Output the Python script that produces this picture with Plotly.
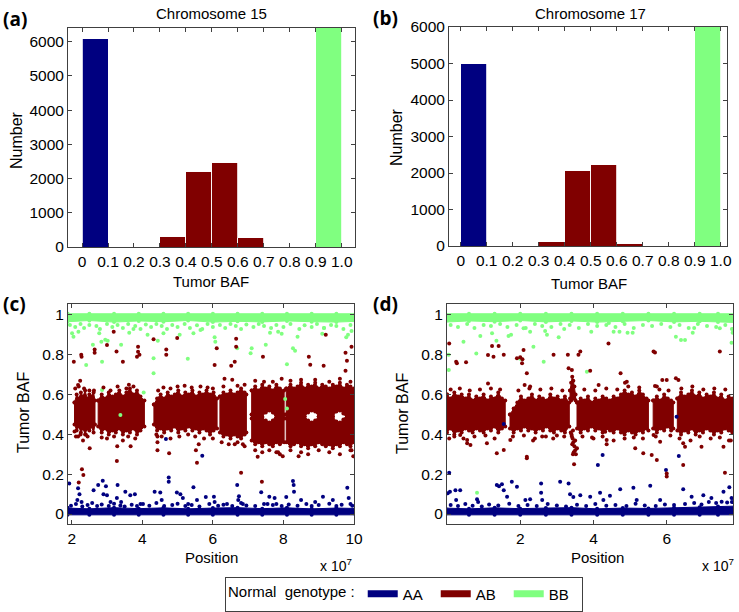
import plotly.graph_objects as go

W, H = 739, 612
AA_COL, AB_COL, BB_COL = "#000080", "#800000", "#80FF80"
FONT = "Liberation Sans, Arial, sans-serif"

# ---------------- histogram data (top row) ----------------
bin_left = [0.0, 0.1, 0.2, 0.3, 0.4, 0.5, 0.6, 0.7, 0.8, 0.9]
bin_tickvals = [0.0, 0.1, 0.2, 0.3, 0.4, 0.5, 0.6, 0.7, 0.8, 0.9, 1.0]
bin_ticktext = ["0", "0.1", "0.2", "0.3", "0.4", "0.5", "0.6", "0.7", "0.8", "0.9", "1.0"]
count_ticks = [0, 1000, 2000, 3000, 4000, 5000, 6000]

chr15_AA = [6100, 20, 0, 0, 0, 0, 0, 0, 0, 0]
chr15_AB = [0, 0, 0, 310, 2220, 2470, 270, 0, 0, 0]
chr15_BB = [0, 0, 0, 0, 0, 0, 0, 0, 10, 6900]
chr17_AA = [5000, 15, 0, 0, 0, 0, 0, 0, 0, 0]
chr17_AB = [0, 0, 0, 110, 2070, 2230, 80, 0, 0, 0]
chr17_BB = [0, 0, 0, 0, 0, 0, 0, 0, 5, 6400]

# ---------------- scatter data (bottom row), position in units of 1e7 ----------------
baf_ticks = [0, 0.2, 0.4, 0.6, 0.8, 1.0]
baf_ticktext = ["0", "0.2", "0.4", "0.6", "0.8", "1"]

# Chromosome 15: dense cores of SNPs (position, upper BAF edge, lower BAF edge)
c15_ab_cores = [
    ([2.08, 2.14, 2.2, 2.26, 2.32, 2.38, 2.44, 2.5, 2.56, 2.62, 2.66],
     [0.56, 0.60, 0.58, 0.61, 0.59, 0.62, 0.58, 0.60, 0.59, 0.61, 0.57],
     [0.45, 0.42, 0.44, 0.41, 0.43, 0.40, 0.43, 0.42, 0.44, 0.41, 0.45]),
    ([2.75, 2.85, 2.95, 3.05, 3.15, 3.25, 3.35, 3.45, 3.55, 3.65, 3.75, 3.85, 3.95, 4.06],
     [0.57, 0.60, 0.58, 0.61, 0.59, 0.60, 0.62, 0.59, 0.61, 0.63, 0.60, 0.62, 0.59, 0.57],
     [0.44, 0.41, 0.43, 0.40, 0.42, 0.41, 0.43, 0.40, 0.42, 0.41, 0.43, 0.40, 0.42, 0.44]),
    ([4.33, 4.42, 4.52, 4.62, 4.72, 4.82, 4.92, 5.02, 5.12, 5.22, 5.32, 5.42, 5.52, 5.62, 5.72, 5.82, 5.92, 6.02, 6.12],
     [0.55, 0.58, 0.60, 0.58, 0.61, 0.59, 0.60, 0.62, 0.59, 0.61, 0.60, 0.62, 0.59, 0.61, 0.60, 0.62, 0.60, 0.61, 0.58],
     [0.45, 0.42, 0.43, 0.41, 0.43, 0.42, 0.44, 0.41, 0.43, 0.42, 0.44, 0.42, 0.43, 0.41, 0.43, 0.42, 0.40, 0.42, 0.43]),
    ([6.2, 6.3, 6.4, 6.5, 6.6, 6.7, 6.8, 6.9, 6.95],
     [0.59, 0.61, 0.60, 0.62, 0.60, 0.61, 0.63, 0.61, 0.60],
     [0.41, 0.39, 0.40, 0.38, 0.40, 0.39, 0.38, 0.40, 0.41]),
    # allelic split after 7.1e7: upper and lower sub-bands
    ([7.1, 7.2, 7.3, 7.4, 7.5, 7.6, 7.7, 7.8, 7.9, 8.02],
     [0.62, 0.64, 0.62, 0.65, 0.63, 0.64, 0.62, 0.65, 0.63, 0.62],
     [0.48, 0.475, 0.48, 0.49, 0.51, 0.52, 0.51, 0.48, 0.475, 0.48]),
    ([7.1, 7.2, 7.3, 7.4, 7.5, 7.6, 7.7, 7.8, 7.9, 8.02],
     [0.50, 0.50, 0.50, 0.485, 0.47, 0.46, 0.47, 0.50, 0.50, 0.50],
     [0.37, 0.35, 0.36, 0.34, 0.36, 0.35, 0.34, 0.36, 0.35, 0.36]),
    ([8.08, 8.2, 8.3, 8.4, 8.5, 8.6, 8.7, 8.8, 8.9, 9.0, 9.1, 9.2, 9.3, 9.4, 9.5, 9.6, 9.7, 9.8, 9.9, 10.0],
     [0.63, 0.65, 0.63, 0.64, 0.66, 0.63, 0.65, 0.64, 0.66, 0.63, 0.65, 0.64, 0.63, 0.65, 0.64, 0.66, 0.63, 0.65, 0.64, 0.63],
     [0.48, 0.475, 0.48, 0.475, 0.48, 0.49, 0.51, 0.52, 0.515, 0.49, 0.48, 0.475, 0.48, 0.49, 0.515, 0.52, 0.505, 0.48, 0.475, 0.48]),
    ([8.08, 8.2, 8.3, 8.4, 8.5, 8.6, 8.7, 8.8, 8.9, 9.0, 9.1, 9.2, 9.3, 9.4, 9.5, 9.6, 9.7, 9.8, 9.9, 10.0],
     [0.50, 0.50, 0.50, 0.50, 0.50, 0.49, 0.47, 0.46, 0.47, 0.49, 0.50, 0.50, 0.50, 0.49, 0.465, 0.46, 0.475, 0.50, 0.50, 0.50],
     [0.36, 0.34, 0.35, 0.36, 0.34, 0.35, 0.33, 0.35, 0.34, 0.36, 0.35, 0.34, 0.35, 0.33, 0.35, 0.34, 0.36, 0.35, 0.34, 0.36]),
]
c15_aa_cores = [
    ([1.88, 2.5, 3.2, 3.9, 4.6, 5.3, 6.0, 6.7, 7.4, 8.1, 8.8, 9.5, 10.05],
     [0.030, 0.026, 0.032, 0.027, 0.031, 0.026, 0.030, 0.032, 0.027, 0.031, 0.026, 0.030, 0.028],
     [-0.004] * 13),
]
c15_bb_cores = [
    ([1.88, 2.5, 3.2, 3.9, 4.6, 5.3, 6.0, 6.7, 7.4, 8.1, 8.8, 9.5, 10.05],
     [1.006] * 13,
     [0.966, 0.972, 0.964, 0.970, 0.966, 0.972, 0.964, 0.968, 0.965, 0.970, 0.966, 0.964, 0.968]),
]
c15_aa_x = [1.93, 2.18, 2.22, 2.16, 2.28, 2.62, 2.75, 2.88, 2.97, 2.90, 3.00, 3.10, 3.30, 3.28, 3.40, 3.52,
            3.66, 3.79, 3.95, 4.35, 4.51, 4.55, 4.75, 4.75, 4.98, 5.08, 5.15, 5.30, 5.45, 5.55, 5.80, 6.03,
            6.05, 6.40, 6.69, 6.74, 6.72, 6.85, 7.37, 7.45, 7.60, 7.75, 7.80, 8.08, 8.27, 8.29, 8.30, 8.50,
            8.90, 9.12, 9.40, 9.81, 9.85, 9.90, 4.67, 5.70,
            1.98, 2.12, 2.30, 2.45, 2.58, 2.72, 2.85, 3.05, 3.20, 3.38, 3.50, 3.70, 3.85, 4.02, 4.20, 4.40,
            4.62, 4.85, 5.00, 5.22, 5.40, 5.62, 5.90, 6.15, 6.30, 6.55, 6.80, 6.95, 7.20, 7.55, 7.70, 7.95,
            8.15, 8.40, 8.65, 8.80, 9.00, 9.30, 9.50, 9.65, 9.95]
c15_aa_y = [0.154, 0.13, 0.10, 0.07, 0.06, 0.12, 0.146, 0.167, 0.14, 0.10, 0.095, 0.06, 0.146, 0.08, 0.06, 0.112,
            0.095, 0.10, 0.05, 0.112, 0.108, 0.07, 0.184, 0.162, 0.108, 0.10, 0.08, 0.05, 0.135, 0.07, 0.085, 0.087,
            0.06, 0.05, 0.146, 0.09, 0.07, 0.05, 0.109, 0.05, 0.087, 0.08, 0.05, 0.085, 0.166, 0.146, 0.112, 0.07,
            0.06, 0.087, 0.07, 0.132, 0.08, 0.05, 0.377, 0.293,
            0.042, 0.05, 0.038, 0.045, 0.055, 0.04, 0.048, 0.04, 0.052, 0.043, 0.038, 0.047, 0.04, 0.05, 0.042, 0.056,
            0.04, 0.046, 0.052, 0.04, 0.045, 0.038, 0.05, 0.042, 0.047, 0.04, 0.055, 0.043, 0.04, 0.05, 0.045, 0.04,
            0.048, 0.042, 0.05, 0.04, 0.046, 0.052, 0.04, 0.047, 0.042]
c15_bb_x = [2.01, 2.05, 2.19, 2.41, 2.60, 2.78, 2.84, 2.86, 2.95, 3.02, 2.86, 3.38, 3.40, 3.63, 3.75, 4.04,
            4.15, 4.32, 4.32, 4.44, 4.60, 5.06, 5.29, 5.45, 5.65, 6.05, 6.07, 6.69, 7.07, 7.10, 7.50, 7.62,
            7.85, 7.95, 8.10, 8.05, 8.10, 8.27, 8.33, 8.40, 9.10, 9.15, 9.78, 9.83, 9.93,
            1.95, 2.10, 2.25, 2.35, 2.50, 2.70, 2.80, 3.00, 3.15, 3.30, 3.45, 3.60, 3.80, 3.95, 4.10, 4.25,
            4.40, 4.55, 4.70, 4.85, 5.00, 5.20, 5.35, 5.55, 5.70, 5.85, 6.00, 6.20, 6.35, 6.50, 6.65, 6.80,
            6.95, 7.15, 7.30, 7.45, 7.65, 7.80, 8.00, 8.20, 8.45, 8.60, 8.80, 8.95, 9.15, 9.35, 9.50, 9.70, 9.90]
c15_bb_y = [0.908, 0.89, 0.916, 0.749, 0.85, 0.908, 0.866, 0.765, 0.875, 0.87, 0.623, 0.497, 0.85, 0.91, 0.93, 0.61,
            0.90, 0.782, 0.707, 0.87, 0.908, 0.90, 0.78, 0.908, 0.925, 0.888, 0.866, 0.833, 0.808, 0.833, 0.85, 0.91,
            0.916, 0.905, 0.752, 0.578, 0.53, 0.833, 0.82, 0.89, 0.905, 0.935, 0.888, 0.90, 0.92,
            0.95, 0.94, 0.955, 0.935, 0.95, 0.945, 0.93, 0.955, 0.94, 0.95, 0.935, 0.955, 0.945, 0.93, 0.952, 0.94,
            0.955, 0.945, 0.93, 0.95, 0.94, 0.955, 0.935, 0.948, 0.93, 0.955, 0.94, 0.95, 0.935, 0.955, 0.945, 0.93,
            0.952, 0.94, 0.955, 0.945, 0.935, 0.95, 0.94, 0.955, 0.93, 0.948, 0.94, 0.955, 0.935, 0.95, 0.945, 0.93, 0.95]
c15_ab_x = [2.06, 2.27, 2.28, 2.18, 2.24, 2.08, 2.18, 2.32, 2.51, 2.40, 2.29, 2.33, 2.20, 2.65, 2.65, 2.63,
            3.00, 3.19, 3.27, 3.29, 3.28, 3.45, 3.67, 3.88, 3.88, 3.85, 3.92, 4.32, 4.43, 4.43, 4.43, 4.68,
            4.68, 4.76, 4.99, 5.52, 5.55, 5.60, 6.05, 6.11, 6.33, 6.52, 6.62, 6.66, 6.66, 6.62, 6.80, 6.90,
            7.27, 7.39, 7.42, 7.85, 7.90, 7.98, 8.43, 8.72, 8.76, 9.14, 9.20, 9.76, 9.76, 9.80, 9.93, 9.98, 9.93,
            2.10, 2.20, 2.35, 2.50, 2.90, 3.10, 3.30, 3.55, 3.62, 3.75, 4.45, 4.60, 4.80, 5.00, 5.20, 5.40,
            5.65, 5.85, 6.00, 6.30, 6.55, 6.70, 6.90, 7.20, 7.45, 7.70, 7.95, 8.20, 8.50, 8.90, 9.30, 9.60, 9.90,
            2.12, 2.25, 2.45, 2.85, 3.00, 3.20, 3.45, 3.60, 3.80, 4.40, 4.55, 4.80, 5.05, 5.30, 5.50, 5.75,
            6.00, 6.25, 6.45, 6.70, 6.85, 7.20, 7.40, 7.60, 7.80, 8.20, 8.50, 8.70, 9.00, 9.30, 9.60, 9.90]
c15_ab_y = [0.765, 0.80, 0.79, 0.648, 0.67, 0.414, 0.39, 0.37, 0.33, 0.40, 0.225, 0.196, 0.158, 0.827, 0.81, 0.62,
            0.849, 0.916, 0.816, 0.34, 0.266, 0.765, 0.34, 0.84, 0.815, 0.79, 0.80, 0.878, 0.39, 0.36, 0.32, 0.827,
            0.80, 0.305, 0.884, 0.32, 0.258, 0.35, 0.749, 0.833, 0.68, 0.745, 0.765, 0.88, 0.84, 0.35, 0.208, 0.34,
            0.288, 0.162, 0.79, 0.31, 0.30, 0.29, 0.29, 0.79, 0.75, 0.745, 0.90, 0.72, 0.81, 0.77, 0.84, 0.29, 0.32,
            0.63, 0.64, 0.63, 0.62, 0.635, 0.62, 0.64, 0.63, 0.65, 0.64, 0.62, 0.635, 0.63, 0.64, 0.645, 0.635,
            0.64, 0.635, 0.63, 0.64, 0.675, 0.645, 0.65, 0.67, 0.665, 0.665, 0.68, 0.67, 0.675, 0.675, 0.665, 0.68, 0.665,
            0.39, 0.40, 0.39, 0.385, 0.38, 0.39, 0.37, 0.39, 0.38, 0.40, 0.39, 0.38, 0.39, 0.40, 0.39, 0.38,
            0.38, 0.36, 0.35, 0.36, 0.35, 0.32, 0.31, 0.32, 0.31, 0.32, 0.31, 0.30, 0.32, 0.31, 0.30, 0.32]

# Chromosome 17
c17_ab_cores = [
    ([0.0, 0.1, 0.2, 0.3, 0.4, 0.5, 0.6, 0.7, 0.8, 0.9, 1.0, 1.1, 1.2, 1.3, 1.4, 1.5, 1.59],
     [0.60, 0.58, 0.61, 0.59, 0.60, 0.58, 0.60, 0.57, 0.59, 0.58, 0.60, 0.57, 0.59, 0.58, 0.61, 0.58, 0.57],
     [0.41, 0.43, 0.40, 0.42, 0.41, 0.43, 0.42, 0.41, 0.43, 0.42, 0.41, 0.43, 0.42, 0.44, 0.41, 0.43, 0.44]),
    ([1.72, 1.82, 1.92, 2.02, 2.12, 2.22, 2.32, 2.42, 2.52, 2.62, 2.72, 2.82, 2.92, 3.02, 3.12, 3.22, 3.34],
     [0.50, 0.53, 0.56, 0.59, 0.57, 0.58, 0.60, 0.57, 0.59, 0.58, 0.57, 0.60, 0.58, 0.59, 0.57, 0.59, 0.56],
     [0.43, 0.41, 0.43, 0.42, 0.44, 0.42, 0.43, 0.41, 0.43, 0.42, 0.44, 0.42, 0.41, 0.43, 0.42, 0.41, 0.44]),
    ([3.36, 3.39, 3.42, 3.45, 3.48, 3.51],
     [0.62, 0.66, 0.69, 0.67, 0.64, 0.60],
     [0.58, 0.57, 0.58, 0.59, 0.58, 0.57]),
    ([3.55, 3.65, 3.75, 3.85, 3.95, 4.05, 4.15, 4.25, 4.35, 4.45, 4.55, 4.65, 4.75, 4.85, 4.95, 5.05, 5.15, 5.25, 5.35, 5.45, 5.5],
     [0.56, 0.58, 0.57, 0.59, 0.56, 0.58, 0.57, 0.59, 0.58, 0.57, 0.59, 0.58, 0.60, 0.62, 0.60, 0.61, 0.59, 0.62, 0.60, 0.58, 0.57],
     [0.43, 0.41, 0.43, 0.42, 0.44, 0.42, 0.43, 0.41, 0.43, 0.42, 0.41, 0.43, 0.41, 0.40, 0.42, 0.41, 0.40, 0.42, 0.41, 0.43, 0.42]),
    ([5.63, 5.73, 5.83, 5.93, 6.03, 6.12, 6.18],
     [0.57, 0.59, 0.57, 0.60, 0.58, 0.57, 0.56],
     [0.43, 0.41, 0.43, 0.42, 0.44, 0.42, 0.43]),
    ([6.29, 6.39, 6.49, 6.59, 6.69, 6.79, 6.89, 6.99, 7.09, 7.19, 7.29, 7.39, 7.49, 7.59, 7.69, 7.79, 7.85],
     [0.58, 0.61, 0.59, 0.60, 0.62, 0.59, 0.61, 0.58, 0.60, 0.59, 0.61, 0.58, 0.60, 0.57, 0.59, 0.58, 0.58],
     [0.42, 0.40, 0.42, 0.41, 0.43, 0.40, 0.42, 0.41, 0.43, 0.42, 0.40, 0.42, 0.41, 0.43, 0.42, 0.41, 0.42]),
]
c17_aa_cores = [
    ([-0.05, 0.6, 1.3, 2.0, 2.7, 3.4, 4.1, 4.8, 5.5, 6.2, 6.9, 7.4, 7.9],
     [0.030, 0.026, 0.031, 0.027, 0.030, 0.032, 0.026, 0.030, 0.028, 0.032, 0.034, 0.038, 0.040],
     [-0.004] * 13),
]
c17_bb_cores = [
    ([-0.05, 0.6, 1.3, 2.0, 2.7, 3.4, 4.1, 4.8, 5.5, 6.2, 6.9, 7.4, 7.9],
     [1.006] * 13,
     [0.964, 0.970, 0.966, 0.972, 0.965, 0.970, 0.964, 0.968, 0.972, 0.965, 0.968, 0.964, 0.962]),
]
c17_aa_x = [0.06, 0.02, 0.08, 0.23, 0.36, 0.25, 0.82, 0.85, 1.36, 1.42, 1.50, 1.55, 1.64, 1.77, 1.91, 2.14,
            2.27, 2.57, 2.57, 2.60, 3.09, 3.32, 3.36, 3.45, 3.64, 3.91, 4.18, 4.27, 4.45, 4.73, 5.09, 5.18,
            5.55, 5.82, 6.45, 6.68, 7.00, 7.22, 7.55, 7.71, 7.77, 4.12, 4.25, 5.98, 6.33, 1.55, 6.27,
            0.10, 0.30, 0.50, 0.70, 0.95, 1.15, 1.40, 1.70, 1.95, 2.20, 2.45, 2.75, 3.00, 3.25, 3.55, 3.80,
            4.05, 4.35, 4.60, 4.90, 5.15, 5.40, 5.70, 5.95, 6.20, 6.50, 6.75, 6.95, 7.15, 7.35, 7.50, 7.65, 7.78]
c17_aa_y = [0.208, 0.104, 0.112, 0.12, 0.12, 0.07, 0.074, 0.06, 0.146, 0.14, 0.15, 0.12, 0.087, 0.162, 0.137, 0.07,
            0.074, 0.154, 0.107, 0.07, 0.162, 0.154, 0.099, 0.085, 0.095, 0.087, 0.107, 0.07, 0.092, 0.124, 0.132, 0.07,
            0.142, 0.07, 0.124, 0.087, 0.095, 0.08, 0.112, 0.134, 0.08, 0.246, 0.296, 0.221, 0.291, 0.452, 0.489,
            0.045, 0.04, 0.05, 0.042, 0.038, 0.048, 0.043, 0.052, 0.04, 0.046, 0.04, 0.05, 0.043, 0.038, 0.047, 0.04,
            0.05, 0.042, 0.046, 0.04, 0.052, 0.043, 0.04, 0.048, 0.045, 0.05, 0.055, 0.048, 0.06, 0.055, 0.062, 0.058, 0.06]
c17_bb_x = [0.045, 0.05, 0.45, 0.80, 0.82, 0.91, 1.23, 1.35, 1.68, 1.75, 2.00, 2.09, 2.27, 2.36, 2.64, 2.68,
            2.73, 3.05, 3.20, 3.82, 3.94, 4.42, 4.55, 4.71, 4.93, 5.07, 6.25, 6.39, 6.50, 6.71, 6.75, 7.45,
            7.77, 7.80,
            0.10, 0.30, 0.55, 0.75, 1.00, 1.20, 1.45, 1.65, 1.90, 2.15, 2.40, 2.60, 2.85, 3.10, 3.35, 3.60,
            3.85, 4.10, 4.35, 4.60, 4.85, 5.10, 5.35, 5.60, 5.85, 6.10, 6.35, 6.60, 6.85, 7.10, 7.35, 7.60, 7.78]
c17_bb_y = [0.80, 0.724, 0.866, 0.807, 0.107, 0.894, 0.908, 0.87, 0.894, 0.90, 0.78, 0.933, 0.916, 0.84, 0.765, 0.92,
            0.90, 0.888, 0.93, 0.715, 0.916, 0.96, 0.916, 0.916, 0.91, 0.91, 0.89, 0.874, 0.874, 0.91, 0.935, 0.933,
            0.86, 0.91,
            0.95, 0.94, 0.955, 0.935, 0.95, 0.945, 0.955, 0.94, 0.95, 0.935, 0.955, 0.945, 0.94, 0.955, 0.95, 0.935,
            0.955, 0.945, 0.95, 0.94, 0.955, 0.935, 0.95, 0.945, 0.955, 0.94, 0.95, 0.935, 0.955, 0.945, 0.94, 0.95, 0.93]
c17_ab_x = [0.06, 0.25, 0.27, 0.52, 1.12, 1.23, 1.27, 1.41, 1.55, 1.12, 1.91, 2.00, 2.06, 2.09, 2.05, 2.18,
            2.12, 2.27, 2.91, 3.30, 3.59, 3.64, 3.32, 3.41, 3.91, 4.14, 4.41, 4.74, 4.86, 4.91, 5.64, 5.68,
            5.68, 5.73, 5.88, 6.00, 6.25, 6.32, 7.45,
            0.06, 0.36, 0.55, 0.64, 0.55, 1.09, 1.36, 1.55, 1.73, 2.18, 2.18, 2.35, 2.60, 2.90, 3.20, 3.96,
            4.32, 4.36, 4.36, 5.14, 5.36, 5.59, 5.64, 5.82, 5.73, 6.00, 6.00, 6.45, 6.50, 6.45, 6.95, 7.55,
            7.59, 7.70,
            3.40, 3.43, 3.45, 3.48, 3.50, 3.42, 3.46, 3.52, 3.50, 3.55, 3.44, 3.47, 3.38, 3.41, 3.44,
            0.10, 0.35, 0.62, 0.90, 1.20, 1.45, 1.95, 2.25, 2.55, 2.85, 3.15, 3.75, 4.05, 4.35, 4.65, 4.95,
            5.25, 5.80, 6.05, 6.40, 6.70, 7.00, 7.30, 7.60,
            0.20, 0.45, 0.75, 1.05, 1.30, 1.80, 2.10, 2.40, 2.70, 3.00, 3.70, 4.00, 4.25, 4.55, 4.85, 5.10,
            5.35, 5.70, 6.10, 6.35, 6.65, 6.90, 7.20, 7.45, 7.75]
c17_ab_y = [0.857, 0.765, 0.757, 0.762, 0.799, 0.844, 0.79, 0.844, 0.80, 0.656, 0.782, 0.787, 0.777, 0.824, 0.757, 0.707,
            0.648, 0.64, 0.80, 0.80, 0.80, 0.816, 0.732, 0.724, 0.72, 0.648, 0.857, 0.707, 0.66, 0.665, 0.816, 0.812,
            0.643, 0.64, 0.673, 0.673, 0.682, 0.673, 0.816,
            0.38, 0.397, 0.372, 0.347, 0.355, 0.355, 0.305, 0.322, 0.372, 0.288, 0.28, 0.37, 0.39, 0.38, 0.39, 0.385,
            0.413, 0.372, 0.35, 0.33, 0.305, 0.296, 0.397, 0.363, 0.271, 0.204, 0.188, 0.355, 0.338, 0.246, 0.338, 0.338,
            0.208, 0.37,
            0.40, 0.38, 0.36, 0.34, 0.32, 0.35, 0.31, 0.30, 0.37, 0.33, 0.30, 0.25, 0.41, 0.39, 0.42,
            0.625, 0.63, 0.62, 0.625, 0.63, 0.625, 0.62, 0.63, 0.625, 0.63, 0.62, 0.625, 0.62, 0.63, 0.625, 0.64,
            0.635, 0.625, 0.62, 0.63, 0.64, 0.625, 0.63, 0.625,
            0.39, 0.38, 0.39, 0.395, 0.38, 0.39, 0.395, 0.38, 0.39, 0.395, 0.39, 0.38, 0.39, 0.37, 0.38, 0.385,
            0.38, 0.39, 0.395, 0.38, 0.37, 0.39, 0.38, 0.385, 0.37]

genotypes = ["AA", "AB", "BB"]
geno_colors = [AA_COL, AB_COL, BB_COL]


def px_x(p):
    return p / W


def px_y(p):
    return 1 - p / H


def band(segs):
    xs, ys = [], []
    for x, hi, lo in segs:
        xs += list(x) + list(x[::-1]) + [x[0], None]
        ys += list(hi) + list(lo[::-1]) + [hi[0], None]
    return xs, ys


fig = go.Figure()

# ---- histograms ----
for ax, data in (("", (chr15_AA, chr15_AB, chr15_BB)), ("2", (chr17_AA, chr17_AB, chr17_BB))):
    for vals, col, name in zip(data, geno_colors, genotypes):
        fig.add_trace(go.Bar(
            x=bin_left, y=vals, width=0.1, offset=0,
            marker=dict(color=col, line=dict(color="white", width=0.8)),
            xaxis="x" + ax, yaxis="y" + ax, showlegend=False, name=name))

# ---- scatter panels ----
panels = [
    ("3", c15_aa_cores, c15_ab_cores, c15_bb_cores,
     (c15_aa_x, c15_aa_y), (c15_ab_x, c15_ab_y), (c15_bb_x, c15_bb_y)),
    ("4", c17_aa_cores, c17_ab_cores, c17_bb_cores,
     (c17_aa_x, c17_aa_y), (c17_ab_x, c17_ab_y), (c17_bb_x, c17_bb_y)),
]
for ax, aa_c, ab_c, bb_c, aa_p, ab_p, bb_p in panels:
    for cores, col in ((bb_c, BB_COL), (aa_c, AA_COL), (ab_c, AB_COL)):
        bx, by = band(cores)
        fig.add_trace(go.Scatter(x=bx, y=by, mode="lines+markers", fill="toself", fillcolor=col,
                                 line=dict(color=col, width=1), marker=dict(color=col, size=4),
                                 xaxis="x" + ax, yaxis="y" + ax, showlegend=False, hoverinfo="skip"))
    for (px_, py_), col in ((bb_p, BB_COL), (aa_p, AA_COL), (ab_p, AB_COL)):
        fig.add_trace(go.Scatter(x=px_, y=py_, mode="markers", marker=dict(color=col, size=4),
                                 xaxis="x" + ax, yaxis="y" + ax, showlegend=False))

# ---- legend entries ----
for name, col in zip(genotypes, geno_colors):
    fig.add_trace(go.Scatter(x=[None], y=[None], mode="lines", line=dict(color=col, width=7),
                             name=name, showlegend=True, xaxis="x", yaxis="y"))

TICKFONT = dict(size=15.5, color="black", family=FONT)
axis_common = dict(showline=True, linecolor="#404040", linewidth=1, mirror="allticks", ticks="inside",
                   ticklen=4, tickcolor="#404040", showgrid=False, zeroline=False, tickfont=TICKFONT)

layout = dict(
    width=W, height=H, margin=dict(l=0, r=0, t=0, b=0, autoexpand=False),
    paper_bgcolor="white", plot_bgcolor="white",
    barmode="stack", font=dict(family=FONT, size=15, color="black"),
    xaxis=dict(axis_common, domain=[px_x(68), px_x(355)], range=[-0.054, 1.051], anchor="y",
               tickvals=bin_tickvals, ticktext=bin_ticktext),
    yaxis=dict(axis_common, domain=[px_y(247), px_y(28)], range=[0, 6400], anchor="x",
               tickvals=count_ticks),
    xaxis2=dict(axis_common, domain=[px_x(449), px_x(727)], range=[-0.045, 1.024], anchor="y2",
                tickvals=bin_tickvals, ticktext=bin_ticktext),
    yaxis2=dict(axis_common, domain=[px_y(246), px_y(27)], range=[0, 6000], anchor="x2",
                tickvals=count_ticks),
    xaxis3=dict(axis_common, domain=[px_x(68), px_x(354)], range=[1.895, 10.0], anchor="y3",
                tickvals=[2, 4, 6, 8, 10]),
    yaxis3=dict(axis_common, domain=[px_y(524), px_y(304)], range=[-0.05, 1.055], anchor="x3",
                tickvals=baf_ticks, ticktext=baf_ticktext),
    xaxis4=dict(axis_common, domain=[px_x(447), px_x(733)], range=[0.0, 7.81], anchor="y4",
                tickvals=[2, 4, 6]),
    yaxis4=dict(axis_common, domain=[px_y(524), px_y(304)], range=[-0.05, 1.055], anchor="x4",
                tickvals=baf_ticks, ticktext=baf_ticktext),
    legend=dict(orientation="h", x=px_x(404), xanchor="center", y=px_y(594), yanchor="middle",
                traceorder="normal",
                bordercolor="#404040", borderwidth=1, bgcolor="white",
                font=dict(size=15, family=FONT, color="black"),
                title=dict(text="Normal  genotype :", side="left", font=dict(size=15, family=FONT)),
                entrywidth=28, entrywidthmode="pixels", itemwidth=30),
)
fig.update_layout(**layout)


def ann(text, x, y, size=15, bold=False, angle=0, xanchor="center"):
    fig.add_annotation(text=("<b>%s</b>" % text) if bold else text, x=px_x(x), y=px_y(y),
                       xref="paper", yref="paper", showarrow=False, textangle=angle, xanchor=xanchor,
                       yanchor="middle",
                       font=dict(size=size, color="black",
                                 family=("Open Sans, sans-serif" if bold else FONT)))


ann("(a)", 1, 19, size=19, bold=True, xanchor="left")
ann("(b)", 371, 18, size=19, bold=True, xanchor="left")
ann("(c)", 1, 304, size=19, bold=True, xanchor="left")
ann("(d)", 371, 304, size=19, bold=True, xanchor="left")
ann("Chromosome 15", 211, 13)
ann("Chromosome 17", 590, 13)
ann("Number", 17, 140, size=16, angle=-90)
ann("Number", 396, 137, size=16, angle=-90)
ann("Tumor BAF", 211, 282)
ann("Tumor BAF", 589, 283)
ann("Tumor BAF", 23, 413, size=16, angle=-90)
ann("Tumor BAF", 402, 413, size=16, angle=-90)
ann("Position", 211, 557)
ann("Position", 597, 557)
ann("x 10<sup>7</sup>", 336, 565, size=14)
ann("x 10<sup>7</sup>", 718, 565, size=14)

fig.write_html("out.html", config={"displayModeBar": False},
               post_script="document.body.style.margin='0px';document.body.style.overflow='hidden';")
